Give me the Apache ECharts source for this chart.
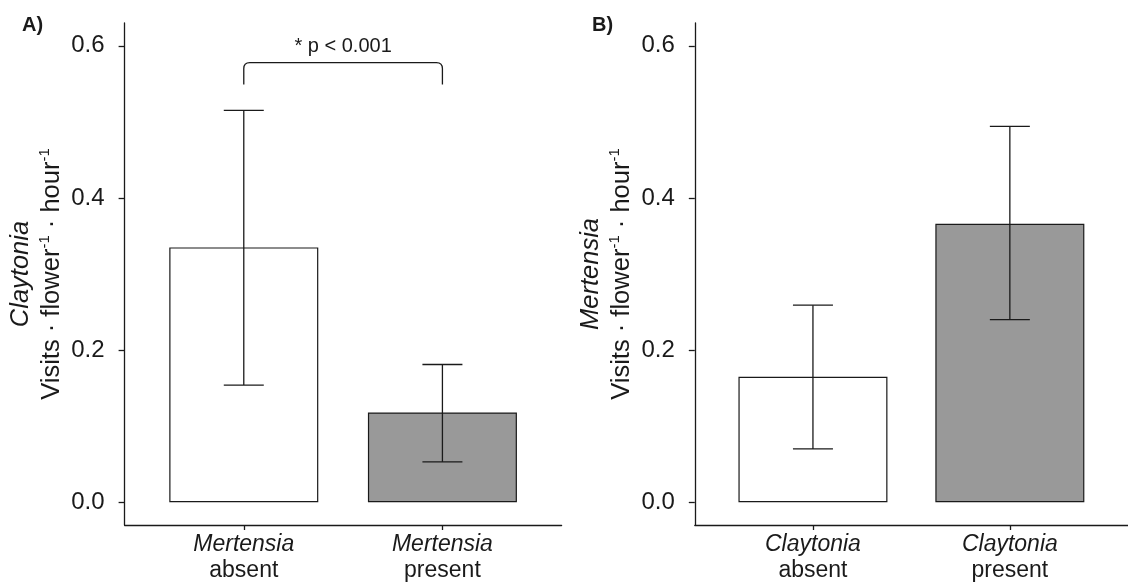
<!DOCTYPE html>
<html>
<head>
<meta charset="utf-8">
<script src="https://cdn.jsdelivr.net/npm/echarts@6/dist/echarts.min.js"></script>
<style>
html,body{margin:0;padding:0;background:#fff;}
#chart{width:1128px;height:583px;}
</style>
</head>
<body>
<div id="chart"></div>
<script>
// ---- data ----
const xPos = [1, 2];
const tickValuesY = [0, 0.2, 0.4, 0.6];

const xGenusA = ['Mertensia', 'Mertensia'];
const xStatusA = ['absent', 'present'];
const meanA = [0.335, 0.118];
const lowA = [0.154, 0.053];
const highA = [0.515, 0.181];

const xGenusB = ['Claytonia', 'Claytonia'];
const xStatusB = ['absent', 'present'];
const meanB = [0.165, 0.366];
const lowB = [0.070, 0.240];
const highB = [0.259, 0.494];

const barColors = ['#ffffff', '#999999'];

const sigText = '* p < 0.001';
const sigBracket = [1, 2, 0.578, 0.549]; // x1, x2, top value, lower end value

const yTitleGenusA = 'Claytonia';
const yTitleGenusB = 'Mertensia';
const panelLabels = ['A)', 'B)'];

// ---- chart ----
const FONT = '"Liberation Sans", Arial, Helvetica, sans-serif';
const INK = '#1a1a1a';
const chart = echarts.init(document.getElementById('chart'), null, {renderer: 'canvas'});

function yName(genus) {
  return '{it|' + genus + '}\n{n|Visits · flower}{sup|-1}{n| · hour}{sup|-1}';
}
const yNameRich = {
  it: {fontStyle: 'italic', fontSize: 25.5, fontFamily: FONT, color: INK, lineHeight: 31},
  n: {fontSize: 25.5, fontFamily: FONT, color: INK, lineHeight: 31},
  sup: {fontSize: 15, fontFamily: FONT, color: INK, lineHeight: 31, verticalAlign: 'top', padding: [1, 0, 0, 0]}
};

function xAxisCfg(gridIndex, genus, status) {
  return {
    type: 'value', gridIndex: gridIndex, min: 0.4, max: 2.6,
    splitLine: {show: false},
    axisLine: {show: true, onZero: false, lineStyle: {color: INK, width: 1.3}},
    axisTick: {show: true, length: 5, customValues: xPos, lineStyle: {color: INK, width: 1.3}},
    axisLabel: {
      show: true, customValues: xPos, margin: 7,
      formatter: function (v) {
        const i = xPos.indexOf(v);
        return i < 0 ? '' : '{it|' + genus[i] + '}\n{n|' + status[i] + '}';
      },
      rich: {
        it: {fontStyle: 'italic', fontSize: 23, fontFamily: FONT, color: INK, lineHeight: 26},
        n: {fontSize: 23, fontFamily: FONT, color: INK, lineHeight: 26}
      }
    }
  };
}
function yAxisCfg(gridIndex, genus) {
  return {
    type: 'value', gridIndex: gridIndex, min: -0.03, max: 0.63,
    splitLine: {show: false},
    axisLine: {show: true, lineStyle: {color: INK, width: 1.3}},
    axisTick: {show: true, length: 6, customValues: tickValuesY, lineStyle: {color: INK, width: 1.3}},
    axisLabel: {
      show: true, customValues: tickValuesY, margin: 20,
      fontSize: 24, fontFamily: FONT, color: INK,
      formatter: function (v) { return v.toFixed(1); }
    },
    name: yName(genus), nameLocation: 'middle', nameRotate: 90, nameGap: 57,
    nameTextStyle: {rich: yNameRich, align: 'center'}
  };
}

function barSeries(idx, means) {
  return {
    type: 'bar', xAxisIndex: idx, yAxisIndex: idx, barWidth: 149, silent: true,
    itemStyle: {borderColor: INK, borderWidth: 1.2},
    data: xPos.map(function (x, i) {
      return {value: [x, means[i]], itemStyle: {color: barColors[i]}};
    }),
    z: 2
  };
}
function errSeries(idx, lows, highs) {
  return {
    type: 'custom', xAxisIndex: idx, yAxisIndex: idx, silent: true, z: 5,
    data: xPos.map(function (x, i) { return [x, lows[i], highs[i]]; }),
    renderItem: function (params, api) {
      const x = api.value(0);
      const pLo = api.coord([x, api.value(1)]);
      const pHi = api.coord([x, api.value(2)]);
      const hw = 20;
      const st = {stroke: INK, lineWidth: 1.3};
      return {
        type: 'group',
        children: [
          {type: 'line', shape: {x1: pLo[0], y1: pLo[1], x2: pHi[0], y2: pHi[1]}, style: st},
          {type: 'line', shape: {x1: pHi[0] - hw, y1: pHi[1], x2: pHi[0] + hw, y2: pHi[1]}, style: st},
          {type: 'line', shape: {x1: pLo[0] - hw, y1: pLo[1], x2: pLo[0] + hw, y2: pLo[1]}, style: st}
        ]
      };
    }
  };
}

const sigSeries = {
  type: 'custom', xAxisIndex: 0, yAxisIndex: 0, silent: true, z: 6,
  data: [sigBracket],
  renderItem: function (params, api) {
    const a = api.coord([api.value(0), api.value(2)]);
    const b = api.coord([api.value(1), api.value(2)]);
    const aLow = api.coord([api.value(0), api.value(3)]);
    const r = 6;
    const d = 'M' + a[0] + ' ' + aLow[1] +
      ' L' + a[0] + ' ' + (a[1] + r) +
      ' Q' + a[0] + ' ' + a[1] + ' ' + (a[0] + r) + ' ' + a[1] +
      ' L' + (b[0] - r) + ' ' + b[1] +
      ' Q' + b[0] + ' ' + b[1] + ' ' + b[0] + ' ' + (b[1] + r) +
      ' L' + b[0] + ' ' + aLow[1];
    return {
      type: 'group',
      children: [
        {type: 'path', shape: {pathData: d}, style: {stroke: INK, lineWidth: 1.3, fill: null}},
        {type: 'text', x: (a[0] + b[0]) / 2, y: a[1] - 16,
          style: {text: sigText, fontSize: 20, fontFamily: FONT, fill: INK, align: 'center', verticalAlign: 'middle'}}
      ]
    };
  }
};

const option = {
  backgroundColor: '#ffffff',
  animation: false,
  title: [
    {text: panelLabels[0], left: 17, top: 10, textStyle: {fontSize: 20, fontWeight: 'bold', fontFamily: FONT, color: INK}},
    {text: panelLabels[1], left: 587, top: 10, textStyle: {fontSize: 20, fontWeight: 'bold', fontFamily: FONT, color: INK}}
  ],
  grid: [
    {left: 124.6, top: 23, width: 437, height: 502, containLabel: false},
    {left: 694.8, top: 23, width: 437, height: 502, containLabel: false}
  ],
  xAxis: [xAxisCfg(0, xGenusA, xStatusA), xAxisCfg(1, xGenusB, xStatusB)],
  yAxis: [yAxisCfg(0, yTitleGenusA), yAxisCfg(1, yTitleGenusB)],
  series: [
    barSeries(0, meanA), errSeries(0, lowA, highA),
    barSeries(1, meanB), errSeries(1, lowB, highB),
    sigSeries
  ]
};
chart.setOption(option);
</script>
</body>
</html>
